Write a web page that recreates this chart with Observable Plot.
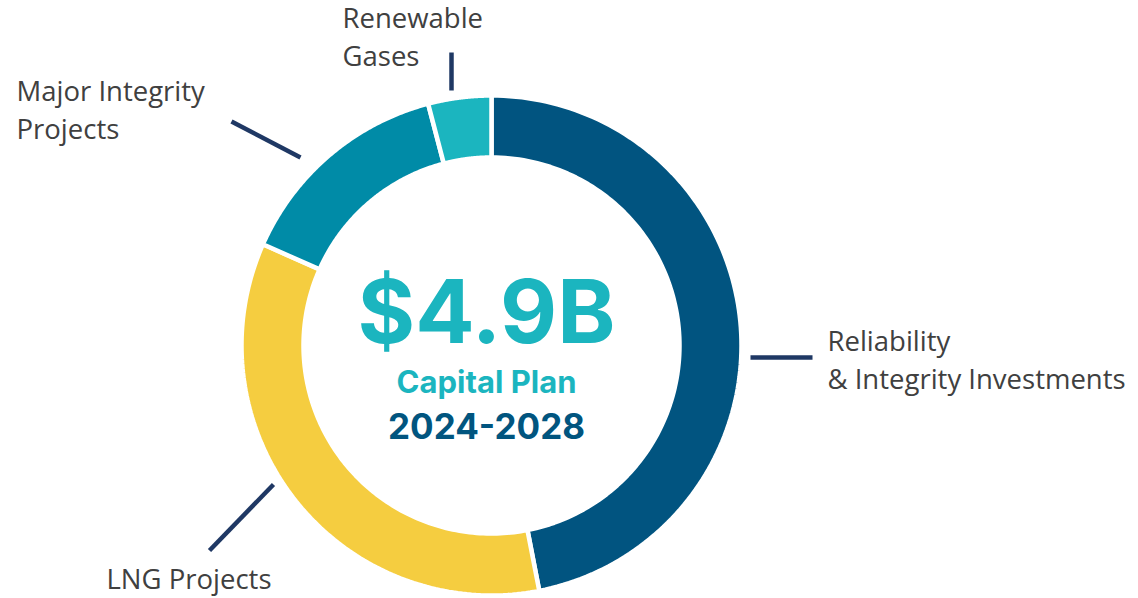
<!DOCTYPE html>
<html>
<head>
<meta charset="utf-8">
<script src="https://cdn.jsdelivr.net/npm/d3@7"></script>
<script src="https://cdn.jsdelivr.net/npm/@observablehq/plot@0.6"></script>
<style>
  html, body { margin: 0; padding: 0; background: #fff; }
  #chart svg { display: block; }
</style>
</head>
<body>
<div id="chart"></div>
<script>
// ---- Data ----
const categories = ["Reliability & Integrity Investments", "LNG Projects", "Major Integrity Projects", "Renewable Gases"];
const values = [2.3, 1.7, 0.7, 0.2]; // $B, total 4.9
const colors = ["#015480", "#f5cd40", "#008ba7", "#1bb5bf"];
const labelLines = [["Reliability", "& Integrity Investments"], ["LNG Projects"], ["Major Integrity", "Projects"], ["Renewable", "Gases"]];
const centerTitle = "$4.9B";
const centerSub = "Capital Plan";
const centerYears = "2024-2028";

// ---- Layout ----
const W = 1138, H = 598;
const cx = 491, cy = 345, rOuter = 250, rInner = 188;
const labelLayout = [
  {x: 827, y: 388, leader: [750, 357, 812, 357]},
  {x: 106, y: 588, leader: [273, 484, 209, 550]},
  {x: 16,  y: 138, leader: [231, 121, 300, 157]},
  {x: 342, y: 65,  leader: [451, 52, 451, 90]}
];

const pie = d3.pie().sort(null).value(d => d.value).startAngle(0).endAngle(2 * Math.PI);
const arcs = pie(categories.map((c, i) => ({name: c, value: values[i]})));

// ring polygons derived from pie angles
const ringPts = [];
arcs.forEach(a => {
  const n = 120;
  const pts = [];
  for (let k = 0; k <= n; k++) {
    const t = a.startAngle + (a.endAngle - a.startAngle) * k / n;
    pts.push([cx + rOuter * Math.sin(t), cy - rOuter * Math.cos(t)]);
  }
  for (let k = n; k >= 0; k--) {
    const t = a.startAngle + (a.endAngle - a.startAngle) * k / n;
    pts.push([cx + rInner * Math.sin(t), cy - rInner * Math.cos(t)]);
  }
  pts.push(pts[0]);
  pts.forEach(p => ringPts.push({name: a.data.name, x: p[0], y: p[1]}));
});

const leaders = labelLayout.map((l, i) => ({name: categories[i], x1: l.leader[0], y1: l.leader[1], x2: l.leader[2], y2: l.leader[3]}));
const labels = labelLayout.map((l, i) => ({name: categories[i], x: l.x, y: l.y, text: labelLines[i].join("\n")}));

const labelFont = "'Open Sans', Lato, sans-serif";
const centerFont = "Inter, Roboto, sans-serif";

const chart = Plot.plot({
  width: W,
  height: H,
  margin: 0,
  x: {type: "identity", axis: null},
  y: {type: "identity", axis: null},
  color: {domain: categories, range: colors},
  marks: [
    Plot.line(ringPts, {x: "x", y: "y", z: "name", fill: "name", stroke: "#ffffff", strokeWidth: 4.5, strokeLinejoin: "miter", curve: "linear"}),
    Plot.link(leaders, {x1: "x1", y1: "y1", x2: "x2", y2: "y2", stroke: "#1f3864", strokeWidth: 4.5}),
    Plot.text(labels, {x: "x", y: "y", text: "text", textAnchor: "start", lineAnchor: "bottom", lineHeight: 1.35, fontSize: 27.5, fill: "#404040", fontFamily: labelFont}),
    Plot.text([centerTitle], {x: () => 486, y: () => 342, text: d => d, textAnchor: "middle", lineAnchor: "bottom", fontSize: 88, fontWeight: 700, fill: "#1bb5bf", fontFamily: centerFont}),
    Plot.text([centerSub], {x: () => 486, y: () => 392, text: d => d, textAnchor: "middle", lineAnchor: "bottom", fontSize: 31, fontWeight: 700, fill: "#1bb5bf", fontFamily: centerFont}),
    Plot.text([centerYears], {x: () => 486, y: () => 438, text: d => d, textAnchor: "middle", lineAnchor: "bottom", fontSize: 35, fontWeight: 700, fill: "#01557f", fontFamily: centerFont})
  ]
});
document.getElementById("chart").appendChild(chart);
</script>
</body>
</html>
